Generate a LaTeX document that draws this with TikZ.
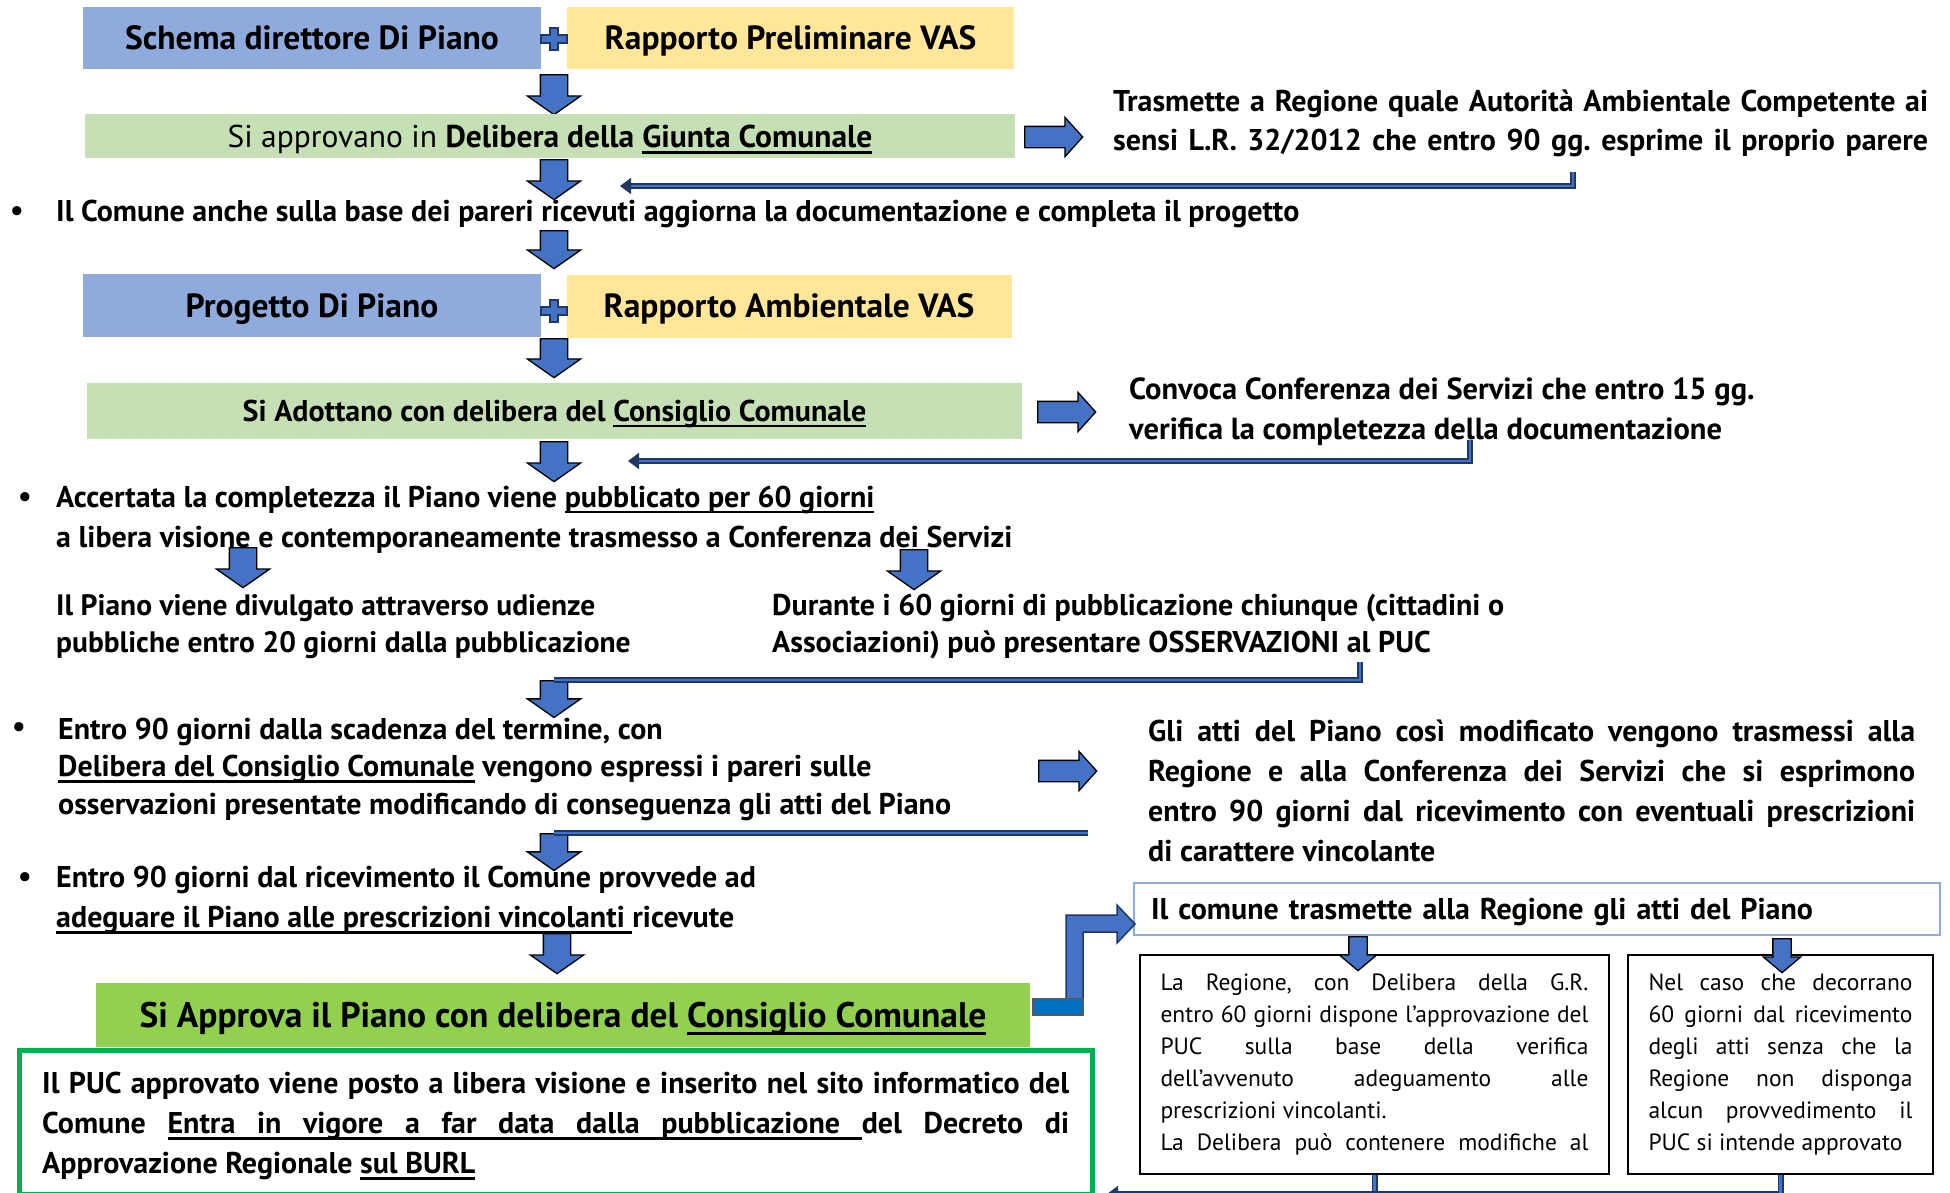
\documentclass[tikz,border=0pt]{standalone}
\usepackage{fontspec}
\setmainfont{PT Sans}
\usepackage{xcolor}
\usepackage{tikz}
\usetikzlibrary{arrows.meta,positioning,shapes.arrows,calc}

\definecolor{boxblue}{HTML}{8FAADC}
\definecolor{boxyellow}{HTML}{FFE699}
\definecolor{boxgreen}{HTML}{C5E0B4}
\definecolor{apprgreen}{HTML}{92D050}
\definecolor{arrblue}{HTML}{4472C4}
\definecolor{arrnavy}{HTML}{1F3864}
\definecolor{barblue}{HTML}{0070C0}
\definecolor{frgreen}{HTML}{00B050}

\frenchspacing
% justified line, underlined text, underlined stretchable space
\newsavebox{\ulbx}
\newcommand{\jl}[2]{\makebox[#1][s]{#2}}
\newcommand{\ul}[1]{\sbox{\ulbx}{#1}\rlap{\vrule height -0.13em depth 0.2em width \wd\ulbx}\usebox{\ulbx}}
\newcommand{\us}{\leaders\vrule height -0.13em depth 0.2em\hskip\fontdimen2\font plus\fontdimen3\font minus\fontdimen4\font\relax}

\begin{document}
\begin{tikzpicture}[
  x=1pt, y=-1pt,
  % boxes, text blocks and block arrows
  B/.style={rectangle, inner sep=0pt, text depth=0pt, font=\fontsize{33.5}{38}\selectfont\bfseries},
  T/.style={inner sep=0pt, anchor=west, align=left,
            font=\fontsize{30}{39}\selectfont\bfseries},
  S/.style={draw=black, line width=2pt, inner sep=0pt, align=left,
            minimum height=219pt, font=\fontsize{23.5}{32}\selectfont},
  darr/.style={single arrow, draw=black, fill=arrblue, line width=1.3pt,
               inner sep=13pt, shape border rotate=270, anchor=tail,
               minimum height=40pt, single arrow head extend=13pt,
               single arrow tip angle=110},
  rarr/.style={single arrow, draw=black, fill=arrblue, line width=1.3pt,
               inner sep=10pt, anchor=tail, minimum height=58pt,
               single arrow head extend=9pt, single arrow tip angle=96},
  sarr/.style={darr, inner sep=8.5pt, minimum height=34pt,
               single arrow head extend=9.5pt, single arrow tip angle=100},
  retl/.style={draw=arrnavy, double=arrblue, double distance=2.4pt, line width=1.8pt},
  rtip/.style={-{Triangle[length=11pt,width=16pt]}},
]
\useasboundingbox (0,0) rectangle (1950,1192);
\clip (0,0) rectangle (1950,1192);

%% ── Schema direttore + Rapporto preliminare ───────────────────────
\node[B, fill=boxblue,   minimum width=458pt, minimum height=62pt] (sdp) at (312,38) {Schema direttore Di Piano};
\node[B, fill=boxyellow, minimum width=447pt, minimum height=62pt] (rpv) at (790.5,38) {Rapporto Preliminare VAS};
\node[darr] (a1) at (554,74) {};
\node[B, fill=boxgreen, minimum width=930pt, minimum height=44pt,
      font=\fontsize{31.5}{36}\selectfont] (giunta) at (550,136)
      {Si approvano in \textbf{Delibera della \ul{Giunta Comunale}}};
\node[rarr] (r1) at (1024,137) {};
\node[T] (trasm) at (1113,123)
      {\jl{815pt}{Trasmette a Regione quale Autorità Ambientale Competente ai}\\
       \jl{815pt}{sensi L.R. 32/2012 che entro 90 gg. esprime il proprio parere}};
\coordinate (r1s) at (1573,172);
\coordinate (r1e) at (620,186);
\draw[retl, rtip] (r1s) |- (r1e);
\node[darr] (a2) at (554,159) {};

\node[T] (dot1) at (10,214) {\textbullet};
\node[T] (aggiorna) at (56,214) {Il Comune anche sulla base dei pareri ricevuti aggiorna la documentazione e completa il progetto};
\node[darr, minimum height=38pt] (a3) at (554,230) {};

%% ── Progetto + Rapporto ambientale ────────────────────────────────
\node[B, fill=boxblue,   minimum width=458pt, minimum height=63pt] (prog) at (312,305.5) {Progetto Di Piano};
\node[B, fill=boxyellow, minimum width=445pt, minimum height=63pt] (rav) at (789,306) {Rapporto Ambientale VAS};
\node[darr, minimum height=39pt] (a4) at (554,338) {};
\node[B, fill=boxgreen, minimum width=935pt, minimum height=56pt,
      font=\fontsize{30}{36}\selectfont\bfseries] (adotta) at (554.5,410.5)
      {Si Adottano con delibera del \ul{Consiglio Comunale}};
\node[rarr] (r2) at (1037,412) {};
\node[T, font=\fontsize{30.5}{40}\selectfont\bfseries] (convoca) at (1129,412)
      {Convoca Conferenza dei Servizi che entro 15 gg.\\
       verifica la completezza della documentazione};
\coordinate (r2s) at (1470,440);
\coordinate (r2e) at (628,461);
\draw[retl, rtip] (r2s) |- (r2e);
\node[darr] (a5) at (554,441) {};

%% ── Pubblicazione ─────────────────────────────────────────────────
\node[T] (dot2) at (18,499.5) {\textbullet};
\node[T, font=\fontsize{30}{40}\selectfont\bfseries] (accerta) at (56,519.5)
      {Accertata la completezza il Piano viene \ul{pubblicato per 60 giorni}\\
       a libera visione e contemporaneamente trasmesso a Conferenza dei Servizi};
\node[darr] (a6) at (243,547) {};
\node[darr] (a7) at (914,549) {};
\node[T, font=\fontsize{29.5}{37}\selectfont\bfseries] (divulga) at (56,627)
      {Il Piano viene divulgato attraverso udienze\\
       pubbliche entro 20 giorni dalla pubblicazione};
\node[T, font=\fontsize{30}{37}\selectfont\bfseries] (osserv) at (772,627)
      {Durante i 60 giorni di pubblicazione chiunque (cittadini o\\
       Associazioni) può presentare OSSERVAZIONI al PUC};
\node[darr, minimum height=32pt] (a8) at (554,680) {};
\coordinate (r3s) at (1360,662);
\draw[retl] (r3s) |- (a8.tail);

%% ── Pareri e trasmissione ─────────────────────────────────────────
\node[T] (dot3) at (12,730) {\textbullet};
\node[T, font=\fontsize{30}{37.5}\selectfont\bfseries] (pareri) at (58,769)
      {Entro 90 giorni dalla scadenza del termine, con\\
       \ul{Delibera del Consiglio Comunale} vengono espressi i pareri sulle\\
       osservazioni presentate modificando di conseguenza gli atti del Piano};
\node[rarr] (r3) at (1038,771) {};
\node[T, font=\fontsize{30}{40}\selectfont\bfseries] (gliatti) at (1148,791)
      {\jl{767pt}{Gli atti del Piano così modificato vengono trasmessi alla}\\
       \jl{767pt}{Regione e alla Conferenza dei Servizi che si esprimono}\\
       \jl{767pt}{entro 90 giorni dal ricevimento con eventuali prescrizioni}\\
       di carattere vincolante};
\node[darr, minimum height=32pt] (a9) at (554,833) {};
\coordinate (r4s) at (1088,833);
\draw[retl] (r4s) -- (a9.tail);

\node[T] (dot4) at (18,880) {\textbullet};
\node[T, font=\fontsize{30}{40}\selectfont\bfseries] (adegua) at (56,900)
      {Entro 90 giorni dal ricevimento il Comune provvede ad\\
       \ul{adeguare il Piano alle prescrizioni vincolanti }ricevute};
\node[darr] (a10) at (557,933) {};

%% ── Approvazione ──────────────────────────────────────────────────
\node[B, fill=apprgreen, minimum width=934pt, minimum height=64pt,
      font=\fontsize{35.5}{40}\selectfont\bfseries] (appr) at (563,1015)
      {Si Approva il Piano con delibera del \ul{Consiglio Comunale}};
\node[draw=frgreen, line width=5pt, minimum width=1073pt, minimum height=144pt,
      inner sep=0pt] (pucbox) at (555.5,1122) {};
\node[T, font=\fontsize{30}{40}\selectfont\bfseries] (puc) at (42,1126)
      {\jl{1027pt}{Il PUC approvato viene posto a libera visione e inserito nel sito informatico del}\\
       \jl{1027pt}{Comune \ul{Entra}\us\ul{in}\us\ul{vigore}\us\ul{a}\us\ul{far}\us\ul{data}\us\ul{dalla}\us\ul{pubblicazione}\us del Decreto di}\\
       Approvazione Regionale \ul{sul BURL}};

%% ── Regione ───────────────────────────────────────────────────────
\node[draw=boxblue, line width=2pt, fill=white, minimum width=806pt, minimum height=52pt,
      text width=772pt, inner xsep=17pt, align=left, text depth=0pt,
      font=\fontsize{30}{32}\selectfont\bfseries] (regione) at (1537,909)
      {Il comune trasmette alla Regione gli atti del Piano};
\fill[arrblue, draw=arrnavy, line width=1.5pt]
      (1083,1015) -- (1066,1015) -- (1066,915) -- (1117,915) -- (1117,905)
      -- (1135,924) -- (1117,943) -- (1117,932) -- (1083,932) -- cycle;
\draw[fill=barblue, draw=gray!70!black, line width=1.5pt] (1033,999) rectangle (1083,1015);

\node[S, minimum width=469pt] (giunreg) at (1374.5,1064.5)
      {\jl{428pt}{La Regione, con Delibera della G.R.}\\
       \jl{428pt}{entro 60 giorni dispone l'approvazione del}\\
       \jl{428pt}{PUC sulla base della verifica}\\
       \jl{428pt}{dell'avvenuto adeguamento alle}\\
       prescrizioni vincolanti.\\
       \jl{428pt}{La Delibera può contenere modifiche al}};
\node[S, minimum width=305pt] (silenzio) at (1780.5,1064.5)
      {\jl{264pt}{Nel caso che decorrano}\\
       \jl{264pt}{60 giorni dal ricevimento}\\
       \jl{264pt}{degli atti senza che la}\\
       \jl{264pt}{Regione non disponga}\\
       \jl{264pt}{alcun provvedimento il}\\
       PUC si intende approvato\hspace*{5pt}};
\node[sarr] (a11) at (1358,936) {};
\node[sarr] (a12) at (1782,938) {};

\coordinate (bl) at (1107,1194);
\draw[retl] (giunreg.south) -- (giunreg.south |- bl);
\draw[retl, rtip] (silenzio.south) |- (bl);

%% ── Plus signs ────────────────────────────────────────────────────
\foreach \py in {39,311}
  \draw[fill=arrblue, draw=arrnavy, line width=1.5pt, shift={(554,\py)}]
    (-4,-11) -- (4,-11) -- (4,-4) -- (13,-4) -- (13,4) -- (4,4) -- (4,11)
    -- (-4,11) -- (-4,4) -- (-13,4) -- (-13,-4) -- (-4,-4) -- cycle;

\end{tikzpicture}
\end{document}
